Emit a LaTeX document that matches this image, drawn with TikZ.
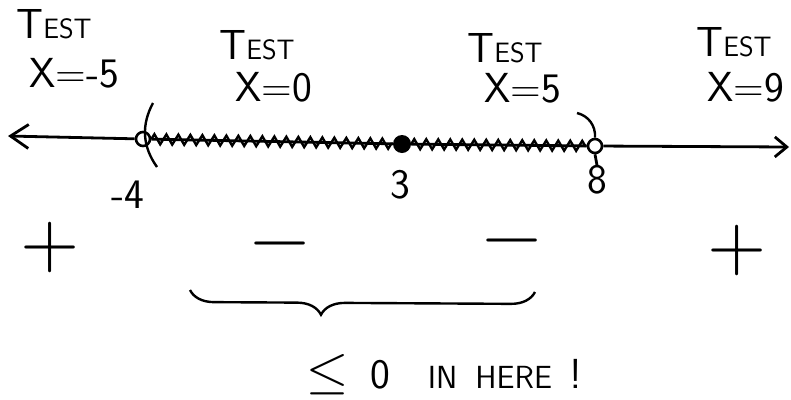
\documentclass[tikz,border=0pt]{standalone}
\usepackage{fontspec}
\usepackage{unicode-math}
\usetikzlibrary{positioning,arrows.meta,decorations.pathmorphing,decorations.pathreplacing}
\tikzset{
  axis/.style={line width=2.8pt},
  tipl/.style={{Straight Barb[length=18pt,width=24pt,line width=2.8pt]}-},
  tipr/.style={-{Straight Barb[length=12pt,width=20pt,line width=2.8pt]}},
  squig/.style={line width=2.4pt, decorate, decoration={zigzag, segment length=12pt, amplitude=5pt}},
  dotopen/.style={circle, draw, line width=2.6pt, fill=white, minimum size=14pt, inner sep=0pt},
  dotfull/.style={circle, fill, minimum size=18pt, inner sep=0pt},
  paren/.style={line width=2.4pt},
  testlab/.style={font=\sffamily\fontsize{42}{44}\selectfont, inner sep=0pt},
  numlab/.style={font=\sffamily\fontsize{42}{44}\selectfont, inner sep=0pt},
  sign/.style={font=\fontsize{76}{76}\selectfont, inner sep=0pt},
  brace/.style={line width=2.4pt, decorate, decoration={brace, mirror, amplitude=24pt, aspect=0.38}},
}
\newcommand{\testword}{T{\fontsize{28}{30}\selectfont EST}}

\begin{document}
\begin{tikzpicture}[x=1pt, y=-1pt]
  \useasboundingbox (0,0) rectangle (791,399);
  % number line
  \coordinate (lend) at (8,136);
  \coordinate (rend) at (789,147);
  \node[dotopen] (m4) at (143,139) {};
  \node[dotfull] (p3) at (402,144) {};
  \node[dotopen] (p8) at (595,146) {};
  \draw[axis,tipl] (lend) -- (m4);
  \draw[axis] (m4) -- (p3) -- (p8);
  \draw[axis,tipr] (p8) -- (rend);
  \draw[squig] (m4) -- (p3);
  \draw[squig] (p3) -- (p8);
  % brackets at the end points
  \coordinate (pa1) at (153,103);
  \coordinate (pa2) at (157,167);
  \draw[paren] (pa1) to[bend right=32] (pa2);
  \coordinate (pb1) at (577,113);
  \draw[paren] (pb1) to[bend left=40] (p8.north);
  % test points
  \node[testlab] (t1) at (54,24) {\testword};
  \node[testlab] (x1) at (74,73) {X=-5};
  \node[testlab] (t2) at (257,45) {\testword};
  \node[testlab] (x2) at (274,87) {X=0};
  \node[testlab] (t3) at (505,48) {\testword};
  \node[testlab] (x3) at (523,88) {X=5};
  \node[testlab] (t4) at (734,42) {\testword};
  \node[testlab] (x4) at (746,87) {X=9};
  % values on the line
  \node[numlab] (n1) at (128,195) {-4};
  \node[numlab] (n2) at (400,185) {3};
  \node[numlab] (n3) at (597,180) {8};
  \draw[axis] (p8.south) -- (n3.north);
  % signs
  \node[sign] (s1) at (50,247) {$+$};
  \node[sign] (s2) at (280,252) {$-$};
  \node[sign] (s3) at (512,249) {$-$};
  \node[sign] (s4) at (737,250) {$+$};
  % brace and note
  \coordinate (b1) at (190,290);
  \coordinate (b2) at (535,292);
  \draw[brace] (b1) -- (b2);
  \node[numlab, anchor=base west] (note) at (306,388)
    {{\fontsize{54}{54}\selectfont$\leq$}\hspace{22pt}0\hspace{38pt}{\fontsize{32}{34}\selectfont IN\hspace{18pt}HERE}\hspace{18pt}!};
\end{tikzpicture}
\end{document}
